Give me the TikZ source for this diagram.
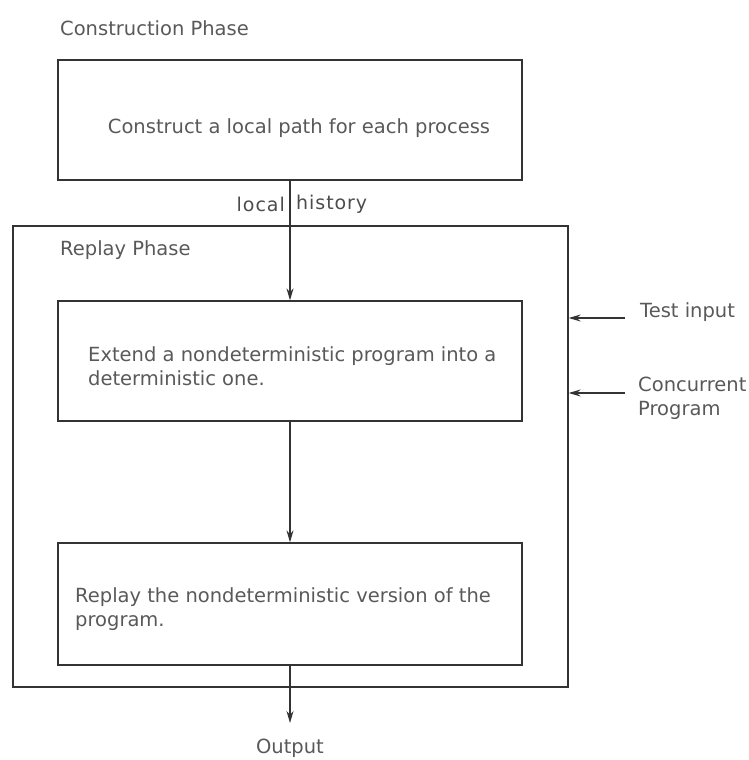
\documentclass[tikz,border=0pt]{standalone}
\usepackage{fontspec}
\setmainfont{DejaVu Sans}
\newfontfamily\widefont[LetterSpace=5]{DejaVu Sans}
\usetikzlibrary{arrows.meta}
\begin{document}
\begin{tikzpicture}[x=1pt,y=-1pt,
  box/.style={draw=black!80, line width=1.3pt, minimum width=464pt, minimum height=120pt, inner sep=0pt},
  lbl/.style={text=black!65, font=\fontsize{19.5}{24}\selectfont, inner sep=0pt},
  wlbl/.style={text=black!70, font=\widefont\fontsize{19}{24}\selectfont, inner sep=0pt},
  arr/.style={draw=black!80, line width=1.2pt, -{Stealth[length=12pt,width=7pt]}}]
\useasboundingbox (0,0) rectangle (749,760);
\node[lbl, anchor=west] (t1) at (60,28) {Construction Phase};
\node[box] (b1) at (290,120) {};
\node[lbl] (b1t) at (299,128) {Construct a local path for each process};
\node[box, minimum width=555pt, minimum height=461pt] (outer) at (290.5,456.5) {};
\node[lbl, anchor=west] (t2) at (60,250) {Replay Phase};
\node[box] (b2) at (290,361) {};
\node[lbl, anchor=west, align=left] (b2t) at (88,366) {Extend a nondeterministic program into a\\deterministic one.};
\node[box, minimum height=122pt] (b3) at (290,604) {};
\node[lbl, anchor=west, align=left] (b3t) at (75,609) {Replay the nondeterministic version of the\\program.};
\node[wlbl, anchor=east] (loc) at (285,204) {local};
\node[wlbl, anchor=west] (his) at (296,204) {history};
\draw[arr] (b1.south) -- (b2.north);
\draw[arr] (b2.south) -- (b3.north);
\coordinate (out) at (290,723);
\draw[arr] (b3.south) -- (out);
\node[lbl] (outl) at (290,748) {Output};
\coordinate (ti) at (625,318);
\draw[arr] (ti) -- (outer.east |- ti);
\node[lbl, anchor=west] (til) at (640,312) {Test input};
\coordinate (cp) at (625,393);
\draw[arr] (cp) -- (outer.east |- cp);
\node[lbl, anchor=west, align=left] (cpl) at (638,398) {Concurrent\\Program};
\end{tikzpicture}
\end{document}
